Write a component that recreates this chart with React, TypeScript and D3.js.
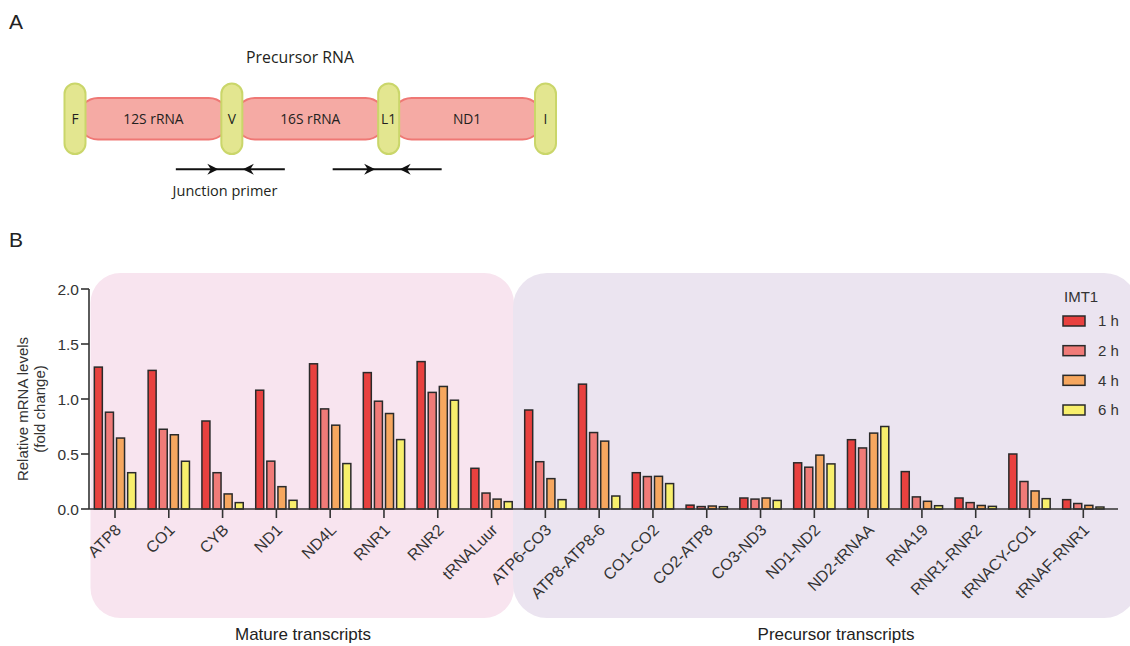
import * as d3 from "d3";

const categories = [
  "ATP8", "CO1", "CYB", "ND1", "ND4L", "RNR1", "RNR2", "tRNALuur",
  "ATP6-CO3", "ATP8-ATP8-6", "CO1-CO2", "CO2-ATP8", "CO3-ND3", "ND1-ND2",
  "ND2-tRNAA", "RNA19", "RNR1-RNR2", "tRNACY-CO1", "tRNAF-RNR1",
];
const series = ["1 h", "2 h", "4 h", "6 h"];
const h1 = [1.29, 1.26, 0.8, 1.08, 1.32, 1.24, 1.34, 0.37, 0.9, 1.135, 0.33, 0.035, 0.1, 0.42, 0.63, 0.34, 0.1, 0.5, 0.085];
const h2 = [0.88, 0.725, 0.33, 0.435, 0.91, 0.98, 1.06, 0.145, 0.43, 0.695, 0.295, 0.022, 0.09, 0.38, 0.555, 0.11, 0.058, 0.25, 0.05];
const h4 = [0.645, 0.675, 0.137, 0.203, 0.762, 0.868, 1.114, 0.09, 0.276, 0.617, 0.297, 0.027, 0.1, 0.49, 0.69, 0.07, 0.032, 0.164, 0.033];
const h6 = [0.33, 0.434, 0.058, 0.079, 0.413, 0.631, 0.989, 0.067, 0.085, 0.118, 0.231, 0.021, 0.078, 0.41, 0.75, 0.03, 0.024, 0.094, 0.018];
const yTicks = [0, 0.5, 1, 1.5, 2];
const colors = ["#e8413f", "#f07b78", "#f6a75f", "#f8ef6c"];

// panel A diagram
const pills = ["F", "V", "L1", "I"];
const segments = ["12S rRNA", "16S rRNA", "ND1"];
const primerPills = [1, 2];

const width = 1130;
const height = 646;
const marginLeft = 89;
const axisRight = 1118;
const yTop = 289;
const yBottom = 509;

const font = "'Liberation Sans', Arial, sans-serif";
const font2 = "'Open Sans', 'Noto Sans', sans-serif";

const App = () => {
  const values = [h1, h2, h4, h6];

  const x0 = d3
    .scaleBand<string>()
    .domain(categories)
    .range([88.1, 1110.2])
    .paddingInner(0.232)
    .paddingOuter(0.116);

  const x1 = d3
    .scaleBand<string>()
    .domain(series)
    .range([0, x0.bandwidth()])
    .paddingInner(0.28);

  const y = d3.scaleLinear().domain([0, 2]).range([yBottom, yTop]);

  const legendY = d3.scalePoint<string>().domain(series).range([321, 410]);

  // diagram scale: pill index -> centre x
  const px = d3.scaleLinear().domain([0, 3]).range([75, 545.5]);
  const diagY = 118.7;

  const arrowHead = (tipX: number, dir: number, cy: number) => {
    const p = d3.path();
    p.moveTo(tipX, cy);
    p.lineTo(tipX - dir * 11, cy - 5.5);
    p.lineTo(tipX - dir * 7.5, cy);
    p.lineTo(tipX - dir * 11, cy + 5.5);
    p.closePath();
    return p.toString();
  };

  return (
    <svg
      width={width}
      height={height}
      viewBox={`0 0 ${width} ${height}`}
      style={{ position: "absolute", left: 0, top: 0, background: "#fff" }}
    >
      {/* panel A */}
      <text x={9} y={29} fontFamily={font} fontSize={21} fill="#222">A</text>
      <text x={300} y={62.5} fontFamily={font2} fontSize={15.8} fill="#231f20" textAnchor="middle">
        Precursor RNA
      </text>
      {segments.map((s, i) => (
        <g key={s}>
          <rect
            x={px(i) + 3}
            y={diagY - 20.8}
            width={px(i + 1) - px(i) - 6}
            height={41.6}
            rx={20}
            fill="#f5aaa4"
            stroke="#ef7875"
            strokeWidth={2}
          />
          <text
            x={(px(i) + px(i + 1)) / 2}
            y={diagY + 5}
            fontFamily={font2}
            fontSize={13.8}
            fill="#231f20"
            textAnchor="middle"
          >
            {s}
          </text>
        </g>
      ))}
      {pills.map((p, i) => (
        <g key={p}>
          <rect
            x={px(i) - 10.5}
            y={diagY - 35.3}
            width={21}
            height={70.6}
            rx={10.5}
            fill="#e3e690"
            stroke="#cad66a"
            strokeWidth={2}
          />
          <text
            x={px(i)}
            y={diagY + 5}
            fontFamily={font2}
            fontSize={13.8}
            fill="#231f20"
            textAnchor="middle"
          >
            {p}
          </text>
        </g>
      ))}
      {primerPills.map((i) => (
        <g key={i}>
          <line
            x1={px(i) - 56}
            x2={px(i) + 53}
            y1={169.3}
            y2={169.3}
            stroke="#111"
            strokeWidth={2}
          />
          <path d={arrowHead(px(i) - 13.5, 1, 169.3)} fill="#111" />
          <path d={arrowHead(px(i) + 11, -1, 169.3)} fill="#111" />
        </g>
      ))}
      <text x={225} y={196} fontFamily={font2} fontSize={14.5} fill="#231f20" textAnchor="middle">
        Junction primer
      </text>

      {/* panel B */}
      <text x={9} y={247} fontFamily={font} fontSize={21} fill="#222">B</text>
      <rect x={90.5} y={273} width={423.5} height={345} rx={30} fill="#f8e4ef" />
      <rect x={513} y={273} width={625} height={345} rx={34} fill="#ebe4f0" />
      <text x={303} y={640} fontFamily={font} fontSize={17} fill="#222" textAnchor="middle">
        Mature transcripts
      </text>
      <text x={836} y={640} fontFamily={font} fontSize={17} fill="#222" textAnchor="middle">
        Precursor transcripts
      </text>

      {/* bars */}
      {categories.map((c, ci) => (
        <g key={c} transform={`translate(${x0(c)},0)`}>
          {series.map((s, si) => (
            <rect
              key={s}
              x={x1(s)}
              y={y(values[si][ci])}
              width={x1.bandwidth()}
              height={y(0) - y(values[si][ci])}
              fill={colors[si]}
              stroke="#2a2a2a"
              strokeWidth={1.5}
            />
          ))}
        </g>
      ))}

      {/* y axis */}
      <line x1={marginLeft} x2={marginLeft} y1={y(2)} y2={y(0)} stroke="#333" strokeWidth={1.6} />
      {yTicks.map((t) => (
        <g key={t}>
          <line x1={marginLeft - 8} x2={marginLeft} y1={y(t)} y2={y(t)} stroke="#333" strokeWidth={1.6} />
          <text
            x={marginLeft - 10}
            y={y(t)}
            dy="0.36em"
            fontFamily={font}
            fontSize={15.5}
            fill="#333"
            textAnchor="end"
          >
            {d3.format(".1f")(t)}
          </text>
        </g>
      ))}
      <g transform={`translate(23,${(y(0) + y(2)) / 2 + 10}) rotate(-90)`}>
        <text x={0} y={5} fontFamily={font} fontSize={15} fill="#333" textAnchor="middle">
          Relative mRNA levels
        </text>
        <text x={0} y={22} fontFamily={font} fontSize={15} fill="#333" textAnchor="middle">
          (fold change)
        </text>
      </g>

      {/* x axis */}
      <line x1={marginLeft} x2={axisRight} y1={y(0)} y2={y(0)} stroke="#333" strokeWidth={1.6} />
      {categories.map((c) => {
        const cx = (x0(c) as number) + x0.bandwidth() / 2;
        return (
          <g key={c}>
            <line x1={cx} x2={cx} y1={y(0)} y2={y(0) + 9} stroke="#333" strokeWidth={1.6} />
            <text
              transform={`translate(${cx + 7},${y(0) + 22}) rotate(-45)`}
              fontFamily={font}
              fontSize={16}
              fill="#333"
              textAnchor="end"
            >
              {c}
            </text>
          </g>
        );
      })}

      {/* legend */}
      <text x={1064} y={302} fontFamily={font} fontSize={15} fill="#333">IMT1</text>
      {series.map((s, si) => (
        <g key={s} transform={`translate(0,${legendY(s)})`}>
          <rect x={1063} y={-5} width={22} height={10} fill={colors[si]} stroke="#2a2a2a" strokeWidth={1.5} />
          <text x={1098} y={0} dy="0.36em" fontFamily={font} fontSize={15} fill="#333">
            {s}
          </text>
        </g>
      ))}
    </svg>
  );
};

export default App;
